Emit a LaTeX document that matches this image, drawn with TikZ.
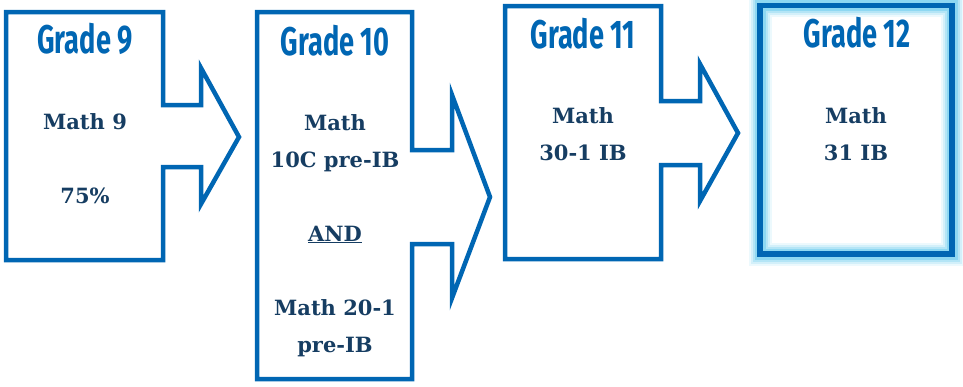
\documentclass[tikz,border=0pt]{standalone}
\usepackage{fontspec}
\setmainfont{DejaVu Serif}
\newfontfamily\hdrfont{Fira Sans}[FakeStretch=0.68]
\definecolor{boxblue}{RGB}{0,102,179}
\definecolor{navy}{RGB}{22,61,98}
\definecolor{glowc}{RGB}{130,212,240}
\tikzset{
  outl/.style={draw=boxblue, line width=4.5pt, line join=miter, fill=white},
  glowline/.style={draw=glowc!#1},
  hdr/.style={anchor=base, inner sep=0pt, text=boxblue, font=\hdrfont\bfseries\fontsize{40}{44}\selectfont},
  txt/.style={anchor=base, inner sep=0pt, text=navy, font=\bfseries\fontsize{21}{25}\selectfont}
}
\begin{document}
\begin{tikzpicture}[x=1pt,y=-1pt]
\useasboundingbox (0,0) rectangle (963,386);
% box 1
\draw[outl] (6,12) -- (163,12) -- (163,105) -- (201,105) -- (201,68) -- (239,137) -- (201,204) -- (201,167) -- (163,167) -- (163,260) -- (6,260) -- cycle;
% box 2
\draw[outl] (257,12) -- (412,12) -- (412,150) -- (452,150) -- (452,95) -- (490,197) -- (452,298) -- (452,244) -- (412,244) -- (412,379) -- (257,379) -- cycle;
% box 3
\draw[outl] (505,6) -- (661,6) -- (661,101) -- (700,101) -- (700,64) -- (738,133) -- (700,201) -- (700,165) -- (661,165) -- (661,259) -- (505,259) -- cycle;
% box 4 with glow
\draw[glowline=15, line width=23pt] (760,5.5) rectangle (952,254);
\draw[glowline=35, line width=19pt] (760,5.5) rectangle (952,254);
\draw[glowline=60, line width=15pt] (760,5.5) rectangle (952,254);
\draw[glowline=90, line width=11pt] (760,5.5) rectangle (952,254);
\draw[boxblue, line width=5.5pt] (760,5.5) rectangle (952,254);
% headers
\node[hdr] (g9) at (85,53) {Grade 9};
\node[hdr] (g10) at (335,55) {Grade 10};
\node[hdr] (g11) at (583,48) {Grade 11};
\node[hdr] (g12) at (857,47) {Grade 12};
% texts
\node[txt] (m9) at (85,129) {Math 9};
\node[txt] (p75) at (85,203) {75\%};
\node[txt] (m10a) at (335,130) {Math};
\node[txt] (m10b) at (335,167) {10C pre-IB};
\node[txt] (and) at (335,241) {\underline{AND}};
\node[txt] (m20a) at (335,315) {Math 20-1};
\node[txt] (m20b) at (335,352) {pre-IB};
\node[txt] (m30a) at (583,123) {Math};
\node[txt] (m30b) at (583,160) {30-1 IB};
\node[txt] (m31a) at (856,123) {Math};
\node[txt] (m31b) at (856,160) {31 IB};
\end{tikzpicture}
\end{document}
